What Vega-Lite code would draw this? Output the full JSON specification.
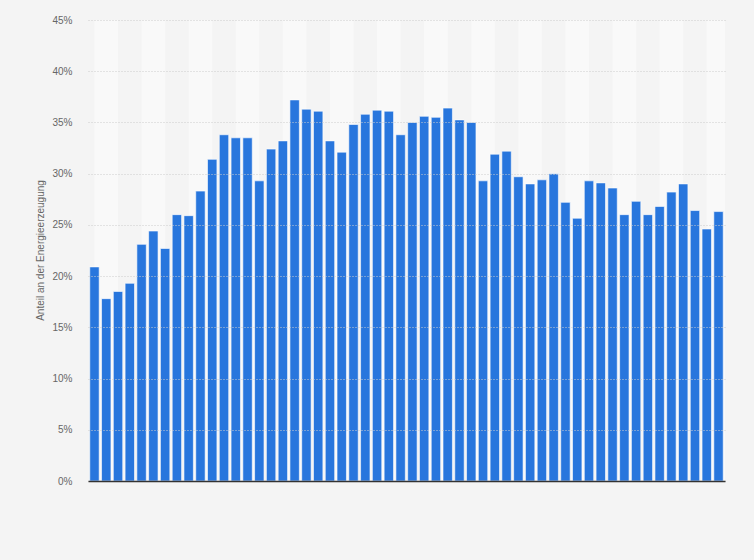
{
  "$schema": "https://vega.github.io/schema/vega-lite/v6.json",
  "autosize": "none",
  "width": 637,
  "height": 461,
  "padding": {"left": 88, "top": 20, "right": 29, "bottom": 79},
  "background": "#f4f4f4",
  "datasets": {
    "anteil": [
      {"Jahr": "1970", "Anteil": 20.9},
      {"Jahr": "1971", "Anteil": 17.8},
      {"Jahr": "1972", "Anteil": 18.5},
      {"Jahr": "1973", "Anteil": 19.3},
      {"Jahr": "1974", "Anteil": 23.1},
      {"Jahr": "1975", "Anteil": 24.4},
      {"Jahr": "1976", "Anteil": 22.7},
      {"Jahr": "1977", "Anteil": 26.0},
      {"Jahr": "1978", "Anteil": 25.9},
      {"Jahr": "1979", "Anteil": 28.3},
      {"Jahr": "1980", "Anteil": 31.4},
      {"Jahr": "1981", "Anteil": 33.8},
      {"Jahr": "1982", "Anteil": 33.5},
      {"Jahr": "1983", "Anteil": 33.5},
      {"Jahr": "1984", "Anteil": 29.3},
      {"Jahr": "1985", "Anteil": 32.4},
      {"Jahr": "1986", "Anteil": 33.2},
      {"Jahr": "1987", "Anteil": 37.2},
      {"Jahr": "1988", "Anteil": 36.3},
      {"Jahr": "1989", "Anteil": 36.1},
      {"Jahr": "1990", "Anteil": 33.2},
      {"Jahr": "1991", "Anteil": 32.1},
      {"Jahr": "1992", "Anteil": 34.8},
      {"Jahr": "1993", "Anteil": 35.8},
      {"Jahr": "1994", "Anteil": 36.2},
      {"Jahr": "1995", "Anteil": 36.1},
      {"Jahr": "1996", "Anteil": 33.8},
      {"Jahr": "1997", "Anteil": 35.0},
      {"Jahr": "1998", "Anteil": 35.6},
      {"Jahr": "1999", "Anteil": 35.5},
      {"Jahr": "2000", "Anteil": 36.4},
      {"Jahr": "2001", "Anteil": 35.25},
      {"Jahr": "2002", "Anteil": 35.0},
      {"Jahr": "2003", "Anteil": 29.3},
      {"Jahr": "2004", "Anteil": 31.9},
      {"Jahr": "2005", "Anteil": 32.2},
      {"Jahr": "2006", "Anteil": 29.7},
      {"Jahr": "2007", "Anteil": 29.0},
      {"Jahr": "2008", "Anteil": 29.4},
      {"Jahr": "2009", "Anteil": 30.0},
      {"Jahr": "2010", "Anteil": 27.2},
      {"Jahr": "2011", "Anteil": 25.65},
      {"Jahr": "2012", "Anteil": 29.3},
      {"Jahr": "2013", "Anteil": 29.1},
      {"Jahr": "2014", "Anteil": 28.6},
      {"Jahr": "2015", "Anteil": 26.0},
      {"Jahr": "2016", "Anteil": 27.3},
      {"Jahr": "2017", "Anteil": 26.0},
      {"Jahr": "2018", "Anteil": 26.8},
      {"Jahr": "2019", "Anteil": 28.2},
      {"Jahr": "2020", "Anteil": 29.0},
      {"Jahr": "2021", "Anteil": 26.4},
      {"Jahr": "2022", "Anteil": 24.6},
      {"Jahr": "2023", "Anteil": 26.3}
    ],
    "streifen": [
      {"Jahr": "1971"}, {"Jahr": "1975"}, {"Jahr": "1979"}, {"Jahr": "1983"},
      {"Jahr": "1987"}, {"Jahr": "1991"}, {"Jahr": "1995"}, {"Jahr": "1999"},
      {"Jahr": "2003"}, {"Jahr": "2007"}, {"Jahr": "2011"}, {"Jahr": "2015"},
      {"Jahr": "2019"}, {"Jahr": "2023"}
    ]
  },
  "encoding": {
    "x": {
      "field": "Jahr",
      "type": "ordinal",
      "scale": {"paddingInner": 0.2, "paddingOuter": 0.15},
      "axis": {
        "labels": false,
        "ticks": false,
        "title": null,
        "domain": true,
        "domainColor": "#333333",
        "domainWidth": 1.5,
        "grid": false,
        "zindex": 3
      }
    }
  },
  "layer": [
    {
      "data": {"name": "streifen"},
      "mark": {"type": "bar", "width": {"band": 2.5}, "color": "#f9f9f9", "clip": true, "zindex": 0},
      "encoding": {
        "y": {"datum": 45, "type": "quantitative"},
        "y2": {"datum": 0}
      }
    },
    {
      "data": {"name": "anteil"},
      "mark": {
        "type": "bar",
        "color": "#2876dd",
        "stroke": "#ffffff",
        "strokeWidth": 1,
        "strokeOpacity": 0.6,
        "zindex": 2
      },
      "encoding": {
        "y": {
          "field": "Anteil",
          "type": "quantitative",
          "scale": {"domain": [0, 45], "nice": false},
          "axis": {
            "title": "Anteil an der Energieerzeugung",
            "values": [0, 5, 10, 15, 20, 25, 30, 35, 40, 45],
            "labelExpr": "datum.value + '%'",
            "domain": false,
            "ticks": false,
            "labelPadding": 16,
            "grid": true,
            "gridColor": "#cccccc",
            "gridDash": [1, 2],
            "gridWidth": 1,
            "titleX": -43,
            "titleY": 230,
            "zindex": 1
          }
        }
      }
    }
  ],
  "config": {
    "view": {"stroke": null},
    "axis": {
      "labelFont": "Liberation Sans",
      "titleFont": "Liberation Sans",
      "labelFontSize": 10,
      "titleFontSize": 10,
      "labelColor": "#666666",
      "titleColor": "#666666",
      "titleFontWeight": "normal"
    }
  }
}
